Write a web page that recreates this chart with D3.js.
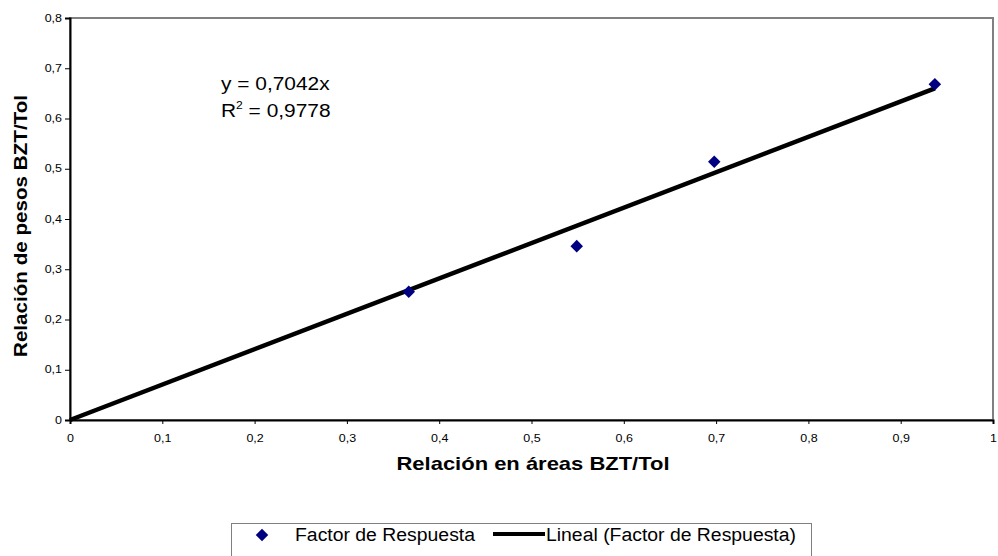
<!DOCTYPE html>
<meta charset="utf-8">
<script src="https://d3js.org/d3.v7.min.js"></script>
<style>
  body { margin: 0; background: #fff; }
  text { font-family: "Liberation Sans", Arial, sans-serif; }
</style>
<div id="chart"></div>
<script>
// data
var areaRatio = [0.367, 0.549, 0.698, 0.937];
var weightRatio = [0.255, 0.346, 0.514, 0.668];
var slope = 0.7042;
var xTicks = [0, 0.1, 0.2, 0.3, 0.4, 0.5, 0.6, 0.7, 0.8, 0.9, 1];
var yTicks = [0, 0.1, 0.2, 0.3, 0.4, 0.5, 0.6, 0.7, 0.8];

var width = 998, height = 556;
var svg = d3.select("#chart").append("svg").attr("width", width).attr("height", height);

var x = d3.scaleLinear().domain([0, 1]).range([70, 993]);
var y = d3.scaleLinear().domain([0, 0.8]).range([420, 18]);
var fmt = function(d){ return String(+d.toFixed(1)).replace(".", ","); };
var stretch = 1.25; // the source text is a bit wider than normal

// plot border (gray top/right)
svg.append("rect")
  .attr("x", x(0)).attr("y", y(0.8))
  .attr("width", x(1) - x(0)).attr("height", y(0) - y(0.8))
  .attr("fill", "none").attr("stroke", "#808080").attr("stroke-width", 2);

// axes
var xAxis = svg.append("g").attr("transform", "translate(0," + y(0) + ")")
  .call(d3.axisBottom(x).tickValues(xTicks).tickSize(4).tickFormat(fmt));
var yAxis = svg.append("g").attr("transform", "translate(" + x(0) + ",0)")
  .call(d3.axisLeft(y).tickValues(yTicks).tickSize(5).tickFormat(fmt));
[xAxis, yAxis].forEach(function(a){
  a.select(".domain").attr("stroke", "#000").attr("stroke-width", 2);
  a.selectAll(".tick line").attr("stroke", "#000");
  a.selectAll("text").style("font-size", "10px").attr("fill", "#000")
    .style("font-family", "'Liberation Sans', Arial, sans-serif")
    .attr("transform", "scale(" + stretch + ",1)");
});
xAxis.selectAll("text").attr("y", 15).attr("dy", "0.71em");
yAxis.selectAll("text").attr("x", -8 / stretch);

// trendline
var xmax = d3.max(areaRatio);
svg.append("line")
  .attr("x1", x(0)).attr("y1", y(0))
  .attr("x2", x(xmax)).attr("y2", y(slope * xmax))
  .attr("stroke", "#000").attr("stroke-width", 4.5);

// points
var diamond = d3.symbol().type(d3.symbolDiamond2).size(100);
svg.append("g").selectAll("path")
  .data(areaRatio)
  .enter()
  .append("path")
    .attr("d", diamond)
    .attr("transform", function(d, i){ return "translate(" + x(d) + "," + y(weightRatio[i]) + ")"; })
    .attr("fill", "#000080");

// equation
var eq = svg.append("g").attr("transform", "translate(221,0) scale(1.1,1)");
eq.append("text").attr("x", 0).attr("y", 90).style("font-size", "19px").text("y = 0,7042x");
var r2 = eq.append("text").attr("x", 0).attr("y", 117).style("font-size", "19px");
r2.append("tspan").text("R");
r2.append("tspan").attr("dy", -8).style("font-size", "11px").text("2");
r2.append("tspan").attr("dy", 8).text(" = 0,9778");

// axis titles
svg.append("text").attr("x", 533).attr("y", 470).attr("text-anchor", "middle")
  .attr("textLength", 273).attr("lengthAdjust", "spacingAndGlyphs")
  .style("font-size", "19px").style("font-weight", "bold").text("Relación en áreas BZT/Tol");
svg.append("text").attr("transform", "translate(27,226) rotate(-90)").attr("text-anchor", "middle")
  .attr("textLength", 262).attr("lengthAdjust", "spacingAndGlyphs")
  .style("font-size", "19px").style("font-weight", "bold").text("Relación de pesos BZT/Tol");

// legend
var lg = svg.append("g");
lg.append("rect").attr("x", 231.5).attr("y", 523.5).attr("width", 580).attr("height", 40)
  .attr("fill", "#fff").attr("stroke", "#808080");
lg.append("path").attr("d", diamond).attr("transform", "translate(262,535)").attr("fill", "#000080");
lg.append("text").attr("x", 295).attr("y", 541).style("font-size", "18px")
  .attr("textLength", 180).attr("lengthAdjust", "spacingAndGlyphs").text("Factor de Respuesta");
lg.append("line").attr("x1", 493).attr("x2", 545).attr("y1", 534).attr("y2", 534)
  .attr("stroke", "#000").attr("stroke-width", 4);
lg.append("text").attr("x", 546).attr("y", 541).style("font-size", "18px")
  .attr("textLength", 250).attr("lengthAdjust", "spacingAndGlyphs").text("Lineal (Factor de Respuesta)");
</script>
